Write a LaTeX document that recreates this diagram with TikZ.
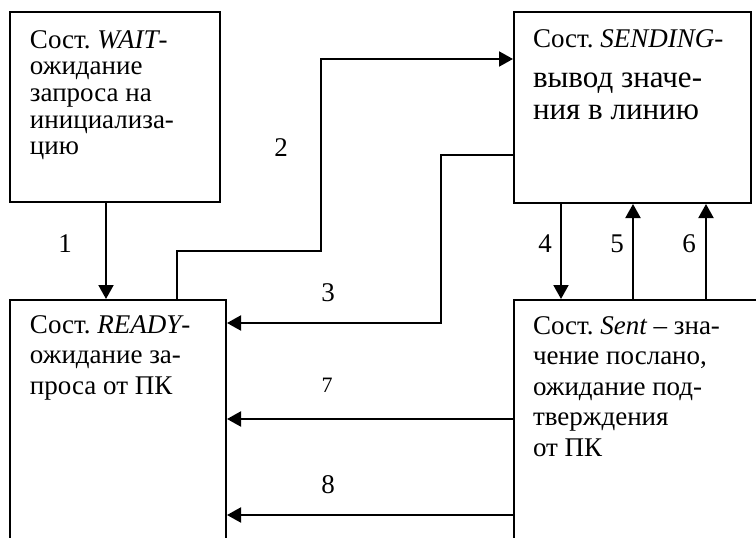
\documentclass[tikz,border=0pt]{standalone}
\usepackage{fontspec}
\setmainfont{Liberation Serif}
\usetikzlibrary{arrows.meta}
\frenchspacing
\tikzset{
  box/.style={draw, line width=2pt, rectangle, inner sep=0pt, outer sep=1pt, anchor=north west},
  txt/.style={inner sep=0pt, outer sep=0pt, anchor=base west},
  arr/.style={line width=2pt, -{Triangle[length=14pt,width=15pt]}},
  lbl/.style={inner sep=0pt, font=\fontsize{27}{30}\selectfont}
}
\begin{document}
\begin{tikzpicture}[x=1pt,y=-1pt]
\useasboundingbox (0,0) rectangle (756,538);
\clip (0,0) rectangle (756,538);
% boxes
\node[box, minimum width=210pt, minimum height=190pt] (wait) at (9,11) {};
\node[box, minimum width=237pt, minimum height=191pt] (sending) at (513,11) {};
\node[box, minimum width=216pt, minimum height=300pt] (ready) at (9,299) {};
\node[box, minimum width=300pt, minimum height=300pt] (sent) at (513,299) {};
% texts
\node[txt] (twait) at (30,48) {\parbox[t]{200pt}{\frenchspacing\setlength{\parindent}{0pt}\fontsize{27}{26.7}\selectfont
Сост. {\itshape WAIT}-\\ожидание\\запроса на\\инициализа-\\цию}};
\node[txt] (tsending) at (533,47) {\parbox[t]{220pt}{\frenchspacing\setlength{\parindent}{0pt}{\fontsize{27}{26.7}\selectfont
Сост. {\itshape SENDING}-\par}\vspace{7pt}{\fontsize{31}{33}\selectfont вывод значе-\\ния в линию\par}}};
\node[txt] (tready) at (30,333) {\parbox[t]{200pt}{\frenchspacing\setlength{\parindent}{0pt}\fontsize{27}{30.5}\selectfont
Сост. {\itshape READY}-\\ожидание за-\\проса от ПК}};
\node[txt] (tsent) at (533,334) {\parbox[t]{220pt}{\frenchspacing\setlength{\parindent}{0pt}\fontsize{27}{30.5}\selectfont
Сост. {\itshape Sent} – зна-\\чение послано,\\ожидание под-\\тверждения\\от ПК}};
% helper coordinates
\coordinate (x1) at (106,0);
\coordinate (p2a) at (177,251);
\coordinate (p2b) at (321,251);
\coordinate (p2c) at (321,59);
\coordinate (p3a) at (441,155);
\coordinate (p3b) at (441,323);
\coordinate (x4) at (561,0);
\coordinate (x5) at (633,0);
\coordinate (x6) at (706,0);
\coordinate (y7) at (0,419);
\coordinate (y8) at (0,515);
% connectors
\draw[arr] (wait.south -| x1) -- (ready.north -| x1);
\draw[arr] (ready.north -| p2a) -- (p2a) -- (p2b) -- (p2c) -- (sending.west |- p2c);
\draw[arr] (sending.west |- p3a) -- (p3a) -- (p3b) -- (ready.east |- p3b);
\draw[arr] (sending.south -| x4) -- (sent.north -| x4);
\draw[arr] (sent.north -| x5) -- (sending.south -| x5);
\draw[arr] (sent.north -| x6) -- (sending.south -| x6);
\draw[arr] (sent.west |- y7) -- (ready.east |- y7);
\draw[arr] (sent.west |- y8) -- (ready.east |- y8);
% labels
\node[lbl] (l1) at (65,244) {1};
\node[lbl] (l2) at (281,148) {2};
\node[lbl] (l3) at (328,293) {3};
\node[lbl] (l4) at (545,244) {4};
\node[lbl] (l5) at (617,244) {5};
\node[lbl] (l6) at (689,244) {6};
\node[lbl, font=\fontsize{22}{25}\selectfont] (l7) at (327,385) {7};
\node[lbl] (l8) at (328,485) {8};
\end{tikzpicture}
\end{document}
